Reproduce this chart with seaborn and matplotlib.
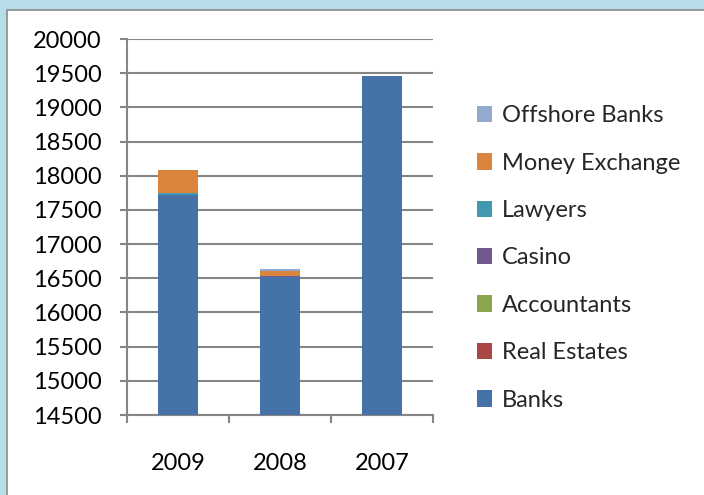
import matplotlib
matplotlib.use("Agg")
import matplotlib.pyplot as plt
from matplotlib.patches import Rectangle, Patch
import numpy as np
import pandas as pd
import seaborn as sns

# Categories and stacked series (bottom to top)
years = ["2009", "2008", "2007"]
banks = [17720, 16520, 19460]
real_estates = [0, 0, 0]
accountants = [0, 0, 0]
casino = [0, 10, 0]
lawyers = [30, 0, 0]
money_exchange = [330, 70, 0]
offshore_banks = [0, 40, 0]

series_names = ["Banks", "Real Estates", "Accountants", "Casino",
                "Lawyers", "Money Exchange", "Offshore Banks"]
series_values = [banks, real_estates, accountants, casino,
                 lawyers, money_exchange, offshore_banks]
series_colors = ["#4572A7", "#AA4643", "#89A54E", "#71588F",
                 "#4198AF", "#DB843D", "#93A9CF"]

y_ticks = list(range(14500, 20001, 500))

sns.set_theme(style="white")
plt.rcParams["font.family"] = ["Lato", "DejaVu Sans"]

FS = 17

fig = plt.figure(figsize=(7.04, 4.95), dpi=100)
fig.patch.set_facecolor("#B7DDE8")

# White chart panel with a grey frame
fig.patches.append(Rectangle((7 / 704, -0.1), 1.2, 1 - 10 / 495 + 0.1,
                             transform=fig.transFigure, facecolor="white",
                             edgecolor="#8C8C8C", linewidth=1.2, zorder=-10))

ax = fig.add_axes([127 / 704, 1 - 415 / 495, 306 / 704, 376 / 495])
ax.set_facecolor("none")

# Cumulative stacks, drawn from the tallest down so each layer shows its own band
cum = np.cumsum(np.array(series_values), axis=0)
for i in range(len(series_names) - 1, -1, -1):
    df = pd.DataFrame({"year": years, "value": cum[i]})
    sns.barplot(data=df, x="year", y="value", color=series_colors[i],
                saturation=1, width=0.4, ax=ax, zorder=3,
                edgecolor="none", linewidth=0)

ax.set_ylim(14500, 20000)
ax.set_xlim(-0.5, 2.5)
ax.set_yticks(y_ticks)
ax.set_yticklabels([str(v) for v in y_ticks])
ax.set_xlabel("")
ax.set_ylabel("")

grid_c = "#868686"
ax.yaxis.grid(True, color=grid_c, linewidth=1.5, zorder=1)
ax.set_axisbelow(True)
for s in ["top", "right"]:
    ax.spines[s].set_visible(False)
for s in ["left", "bottom"]:
    ax.spines[s].set_color(grid_c)
    ax.spines[s].set_linewidth(1.5)

ax.tick_params(axis="y", which="major", left=True, length=5, width=1.5,
               color=grid_c, labelsize=FS, labelcolor="black", pad=13)
ax.set_xticks([-0.5, 0.5, 1.5, 2.5], minor=True)
ax.tick_params(axis="x", which="minor", bottom=True, length=6, width=1.5,
               color=grid_c)
ax.tick_params(axis="x", which="major", bottom=False, length=0,
               labelsize=FS, labelcolor="black", pad=27)

# Legend, top series first
handles = [Patch(facecolor=c, edgecolor="none") for c in series_colors][::-1]
labels = series_names[::-1]
leg = ax.legend(handles, labels, loc="center left",
                bbox_to_anchor=(468 / 704, 1 - 258 / 495),
                bbox_transform=fig.transFigure, frameon=False,
                fontsize=FS, handlelength=0.62, handleheight=0.7,
                handletextpad=0.4, labelspacing=1.12, borderaxespad=0)

fig.savefig("out.png", dpi=100, facecolor=fig.get_facecolor())
